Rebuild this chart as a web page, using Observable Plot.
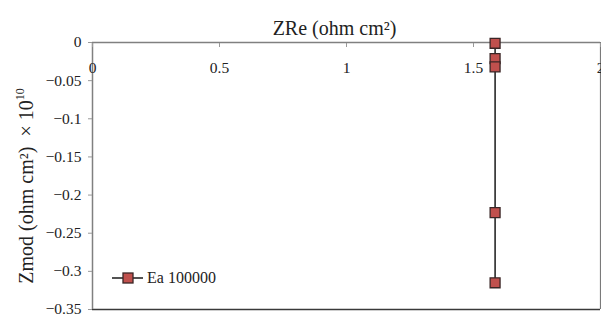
<!DOCTYPE html>
<html>
<head>
<meta charset="utf-8">
<script src="https://cdn.jsdelivr.net/npm/d3@7"></script>
<script src="https://cdn.jsdelivr.net/npm/@observablehq/plot@0.6"></script>
<style>
  body { margin: 0; background: #fff; }
  #wrap { position: relative; width: 601px; height: 316px; font-family: "Liberation Serif", "DejaVu Serif", serif; }
  #wrap svg text { font-family: "Liberation Serif", "DejaVu Serif", serif; }
  #legend { position: absolute; left: 112px; top: 269px; display: flex; align-items: center; font-size: 16px; color: #222; }
</style>
</head>
<body>
<div id="wrap"></div>
<script>
const seriesName = "Ea 100000";
const zre = [1.585, 1.585, 1.585, 1.585, 1.585];
const zmod = [-0.001, -0.021, -0.032, -0.223, -0.315];
const xTicks = [0, 0.5, 1, 1.5, 2];
const yTicks = [0, -0.05, -0.1, -0.15, -0.2, -0.25, -0.3, -0.35];
const xTitle = "ZRe (ohm cm²)";
const yTitleMain = "Zmod (ohm cm²)\u2002× 10";
const yTitleExp = "10";

const data = zre.map((x, i) => ({x, y: zmod[i]}));
const fmt = d => d === 0 ? "0" : (d < 0 ? "\u2212" : "") + String(Math.abs(d));

const markerFill = "#C0504D";
const markerStroke = "#3a2626";

const chart = Plot.plot({
  width: 601,
  height: 316,
  marginLeft: 92,
  marginRight: 1,
  marginTop: 42,
  marginBottom: 7,
  style: {fontSize: "15.5px", color: "#222", background: "#fff"},
  x: {domain: [0, 2]},
  y: {domain: [-0.35, 0]},
  marks: [
    Plot.ruleY([-0.35], {stroke: "#3a3a3a", strokeWidth: 1.5}),
    Plot.ruleX([2], {stroke: "#7a7a7a", strokeWidth: 1.2}),
    Plot.ruleY([0], {stroke: "#808080", strokeWidth: 1.5}),
    Plot.ruleX([0], {stroke: "#808080", strokeWidth: 1.5}),
    Plot.axisX(xTicks, {anchor: "top", tickSize: -4, stroke: "#999", text: null, label: null}),
    Plot.text(xTicks, {x: d => d, frameAnchor: "top", dy: 19, text: d => String(d), fill: "#222", fontSize: 15.5}),
    Plot.axisY(yTicks, {anchor: "left", tickSize: 4, tickPadding: 7, stroke: "#999", tickFormat: fmt, label: null, fill: "#222", fontSize: 15.5}),
    Plot.text([xTitle], {frameAnchor: "top", dx: -12, dy: -22, text: d => d, fontSize: 20, fill: "#222"}),
    Plot.text([yTitleMain], {frameAnchor: "left", textAnchor: "middle", dx: -66, dy: 10, rotate: -90, text: d => d, fontSize: 20, fill: "#222", className: "ytitle"}),
    Plot.line(data, {x: "x", y: "y", stroke: "#1a1a1a", strokeWidth: 1.5}),
    Plot.dot(data, {x: "x", y: "y", symbol: "square", r: 5.6, fill: markerFill, stroke: markerStroke, strokeWidth: 1.3})
  ]
});

const wrap = document.getElementById("wrap");
wrap.appendChild(chart);

// add the exponent as a superscript tspan
const yt = chart.querySelector(".ytitle text");
if (yt) {
  const sup = document.createElementNS("http://www.w3.org/2000/svg", "tspan");
  sup.setAttribute("font-size", "12");
  sup.setAttribute("dy", "-0.75em");
  sup.textContent = yTitleExp;
  yt.appendChild(sup);
}

const legend = document.createElement("div");
legend.id = "legend";
legend.innerHTML = `<svg width="32" height="16" style="margin-right:3px"><line x1="0" y1="8" x2="31" y2="8" stroke="#1a1a1a" stroke-width="1.5"/><rect x="11" y="3" width="10" height="10" fill="${markerFill}" stroke="${markerStroke}" stroke-width="1.3"/></svg><span>${seriesName}</span>`;
wrap.appendChild(legend);
</script>
</body>
</html>
